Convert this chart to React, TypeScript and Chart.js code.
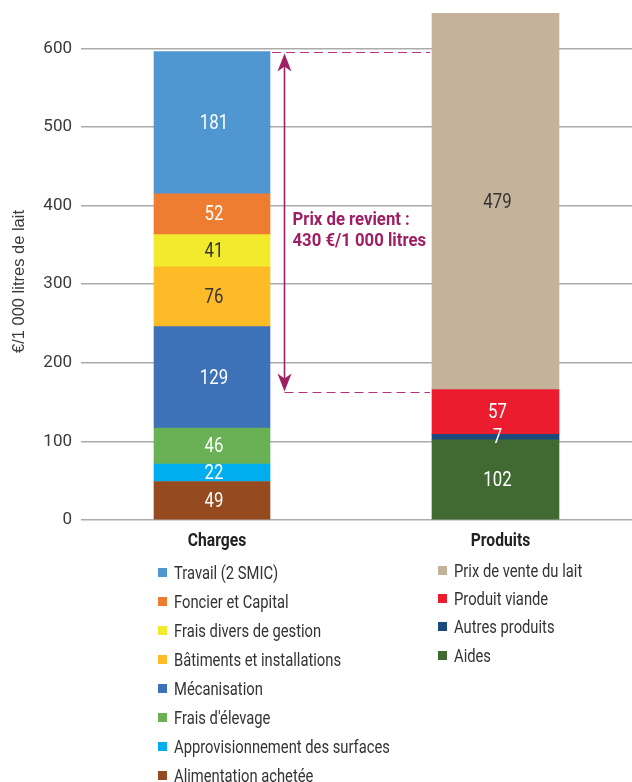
import React, { useEffect, useRef } from "react";
import { Chart, registerables } from "chart.js";

Chart.register(...registerables);

// ---- Data ----
const categories = ["Charges", "Produits"];

const chargeLabels = [
  "Alimentation achetée",
  "Approvisionnement des surfaces",
  "Frais d'élevage",
  "Mécanisation",
  "Bâtiments et installations",
  "Frais divers de gestion",
  "Foncier et Capital",
  "Travail (2 SMIC)",
];
const chargeValues = [49, 22, 46, 129, 76, 41, 52, 181];
const chargeColors = ["#954B1F", "#00AEEF", "#6AB155", "#3D71B8", "#FDBB27", "#F2EA2C", "#EE7D31", "#5097D1"];
const chargeTextColors = ["#FFFFFF", "#FFFFFF", "#FFFFFF", "#FFFFFF", "#333333", "#333333", "#FFFFFF", "#FFFFFF"];

const produitLabels = ["Aides", "Autres produits", "Produit viande", "Prix de vente du lait"];
const produitValues = [102, 7, 57, 479];
const produitColors = ["#416A33", "#1C4A7D", "#EB1C2E", "#C4B39A"];
const produitTextColors = ["#FFFFFF", "#FFFFFF", "#FFFFFF", "#333333"];

const yMin = 0;
const yMax = 645;
const yStep = 100;
const yAxisTitle = "€/1 000 litres de lait";

const prixDeRevient = 430;
const annotationLine1 = "Prix de revient :";
const annotationLine2 = `${prixDeRevient} €/1 000 litres`;

// ---- Styles ----
const SANS = 'Roboto, "Liberation Sans", sans-serif';
const REGULAR = '"Liberation Sans", Arial, sans-serif';
const MAGENTA = "#9E1F63";
const DASH_COLOR = "#B8307E";

function drawNarrow(ctx: any, text: string, x: number, y: number, sx: number, align: string) {
  ctx.save();
  ctx.translate(x, y);
  ctx.scale(sx, 1);
  ctx.textAlign = align;
  ctx.textBaseline = "middle";
  ctx.fillText(text, 0, 0);
  ctx.restore();
}

const valueLabelsPlugin = {
  id: "valueLabels",
  afterDatasetsDraw(chart: any) {
    const ctx = chart.ctx;
    ctx.save();
    ctx.font = `21px ${SANS}`;
    chart.data.datasets.forEach((ds: any, di: number) => {
      const meta = chart.getDatasetMeta(di);
      meta.data.forEach((el: any, i: number) => {
        const v = ds.data[i];
        if (!v) return;
        ctx.fillStyle = ds.labelColor;
        drawNarrow(ctx, String(v.y), el.x + 2, (el.y + el.base) / 2 + 1, 0.8, "center");
      });
    });
    ctx.restore();
  },
};

const decorPlugin = {
  id: "decor",
  afterDatasetsDraw(chart: any) {
    const ctx = chart.ctx;
    const y = chart.scales.y;
    const x = chart.scales.x;
    const area = chart.chartArea;

    // y axis title
    ctx.save();
    ctx.translate(19, (area.top + area.bottom) / 2 + 15);
    ctx.rotate(-Math.PI / 2);
    ctx.font = `16.5px ${REGULAR}`;
    ctx.fillStyle = "#3A3A3A";
    ctx.textAlign = "center";
    ctx.textBaseline = "middle";
    ctx.fillText(yAxisTitle, 0, 0);
    ctx.restore();

    // category labels
    ctx.save();
    ctx.font = `bold 18px ${SANS}`;
    ctx.fillStyle = "#222222";
    categories.forEach((c, i) => {
      drawNarrow(ctx, c, x.getPixelForValue(i) + 5, area.bottom + 21, 0.87, "center");
    });
    ctx.restore();

    // annotation
    const chargesTotal = chargeValues.reduce((a, b) => a + b, 0);
    const chargesEl = chart.getDatasetMeta(0).data[0] as any;
    const produitsEl = chart.getDatasetMeta(chargeValues.length).data[0] as any;
    const chargesRight = chargesEl.x + chargesEl.width / 2;
    const produitsLeft = produitsEl.x - produitsEl.width / 2;
    const yTop = y.getPixelForValue(chargesTotal);
    const yBot = y.getPixelForValue(chargesTotal - prixDeRevient);
    const ax = Math.round(chargesRight + 13.5) + 0.5;

    ctx.save();
    ctx.strokeStyle = DASH_COLOR;
    ctx.lineWidth = 1.2;
    ctx.setLineDash([9, 5]);
    const dTop = Math.round(yTop) + 0.5;
    const dBot = Math.round(yBot + 2) + 0.5;
    ctx.beginPath();
    ctx.moveTo(chargesRight + 2, dTop);
    ctx.lineTo(produitsLeft - 2, dTop);
    ctx.stroke();
    ctx.beginPath();
    ctx.moveTo(ax, dBot);
    ctx.lineTo(produitsLeft - 2, dBot);
    ctx.stroke();
    ctx.setLineDash([]);

    const tipTop = yTop + 2;
    const tipBot = yBot + 2;
    ctx.strokeStyle = MAGENTA;
    ctx.lineWidth = 1.6;
    ctx.beginPath();
    ctx.moveTo(ax, tipTop + 8);
    ctx.lineTo(ax, tipBot - 8);
    ctx.stroke();

    ctx.fillStyle = MAGENTA;
    ctx.beginPath();
    ctx.moveTo(ax, tipTop);
    ctx.lineTo(ax + 7, tipTop + 18);
    ctx.lineTo(ax, tipTop + 13);
    ctx.lineTo(ax - 7, tipTop + 18);
    ctx.closePath();
    ctx.fill();
    ctx.beginPath();
    ctx.moveTo(ax, tipBot);
    ctx.lineTo(ax + 7, tipBot - 18);
    ctx.lineTo(ax, tipBot - 13);
    ctx.lineTo(ax - 7, tipBot - 18);
    ctx.closePath();
    ctx.fill();

    const mid = (yTop + yBot) / 2;
    ctx.font = `bold 19px ${SANS}`;
    drawNarrow(ctx, annotationLine1, ax + 8, mid, 0.88, "left");
    drawNarrow(ctx, annotationLine2, ax + 8, mid + 21, 0.88, "left");
    ctx.restore();
  },
};

export default function App() {
  const canvasRef = useRef<HTMLCanvasElement | null>(null);

  useEffect(() => {
    if (!canvasRef.current) return;
    const datasets: any[] = [];
    chargeValues.forEach((v, i) => {
      datasets.push({
        label: chargeLabels[i],
        data: [{ x: 0, y: v }],
        backgroundColor: chargeColors[i],
        labelColor: chargeTextColors[i],
        barThickness: 116,
        borderWidth: 0,
      });
    });
    produitValues.forEach((v, i) => {
      datasets.push({
        label: produitLabels[i],
        data: [{ x: 1, y: v }],
        backgroundColor: produitColors[i],
        labelColor: produitTextColors[i],
        barThickness: 127,
        borderWidth: 0,
      });
    });

    const chart = new Chart(canvasRef.current, {
      type: "bar",
      data: { datasets },
      options: {
        animation: false,
        responsive: false,
        maintainAspectRatio: false,
        layout: { padding: { top: 13, bottom: 40, left: 0, right: 0 } },
        plugins: {
          legend: { display: false },
          tooltip: { enabled: false },
        },
        scales: {
          x: {
            type: "linear",
            display: false,
            stacked: true,
            offset: false,
            min: -0.4621,
            max: 1.4815,
          },
          y: {
            stacked: true,
            min: yMin,
            max: yMax,
            afterFit: (scale: any) => {
              scale.width = 81;
              scale.paddingTop = 0;
              scale.paddingBottom = 0;
            },
            ticks: {
              stepSize: yStep,
              includeBounds: false,
              padding: 9,
              color: "#3A3A3A",
              font: { family: SANS, size: 17 },
            },
            grid: {
              color: "#ABABAB",
              lineWidth: 1.5,
              drawTicks: false,
            },
            border: { display: false },
          },
        },
      } as any,
      plugins: [valueLabelsPlugin, decorPlugin],
    });
    return () => chart.destroy();
  }, []);

  const legendCol = (labels: string[], colors: string[], left: number, top: number, rowH: number) => (
    <div style={{ position: "absolute", left, top }}>
      {labels.map((l, i) => (
        <div
          key={l}
          style={{
            height: rowH,
            display: "flex",
            alignItems: "center",
            font: `18px ${SANS}`,
            color: "#333333",
            whiteSpace: "nowrap",
          }}
        >
          <span style={{ display: "inline-block", width: 9, height: 9, background: colors[i], marginRight: 7, flex: "none" }} />
          <span style={{ display: "inline-block", transform: "scaleX(0.82)", transformOrigin: "left center" }}>{l}</span>
        </div>
      ))}
    </div>
  );

  return (
    <div style={{ position: "absolute", left: 0, top: 0, width: 632, height: 782, background: "#fff", overflow: "hidden" }}>
      <canvas ref={canvasRef} width={632} height={560} style={{ display: "block" }} />
      {legendCol([...chargeLabels].reverse(), [...chargeColors].reverse(), 158, 557.5, 29.1)}
      {legendCol([...produitLabels].reverse(), [...produitColors].reverse(), 438, 556, 28.4)}
    </div>
  );
}
